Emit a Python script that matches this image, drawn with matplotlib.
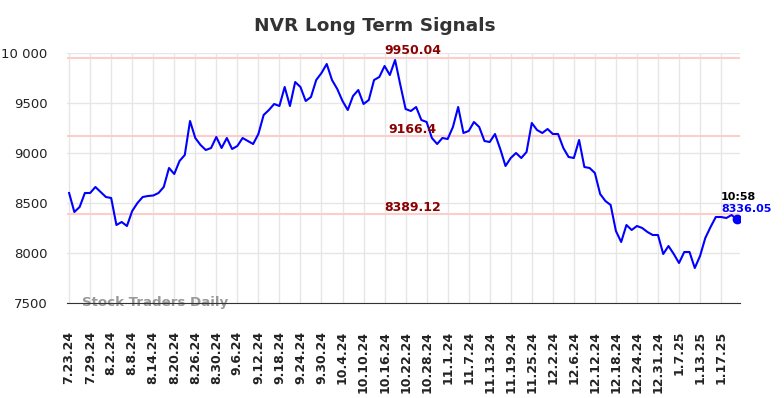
import matplotlib
matplotlib.use("Agg")
import matplotlib.pyplot as plt
from matplotlib.ticker import FuncFormatter

values = [8600, 8410, 8460, 8600, 8600, 8660, 8610, 8560, 8550, 8280,
          8310, 8270, 8420, 8500, 8560, 8570, 8575, 8600, 8660, 8850,
          8790, 8920, 8980, 9320, 9150, 9080, 9030, 9050, 9160, 9050,
          9150, 9040, 9070, 9150, 9120, 9090, 9190, 9380, 9430, 9490,
          9470, 9660, 9470, 9710, 9660, 9520, 9560, 9730, 9800, 9890,
          9730, 9640, 9520, 9430, 9570, 9630, 9490, 9530, 9730, 9760,
          9870, 9780, 9930, 9680, 9440, 9420, 9460, 9330, 9310, 9150,
          9090, 9150, 9140, 9260, 9460, 9200, 9220, 9310, 9260, 9120,
          9110, 9190, 9040, 8870, 8950, 9000, 8950, 9010, 9300, 9230,
          9200, 9240, 9190, 9190, 9050, 8960, 8950, 9130, 8860, 8850,
          8800, 8590, 8520, 8480, 8220, 8110, 8280, 8230, 8270, 8250,
          8210, 8180, 8180, 7990, 8070, 7990, 7900, 8010, 8010, 7850,
          7970, 8150, 8260, 8360, 8360, 8350, 8380, 8336.05]

tick_labels = ["7.23.24", "7.29.24", "8.2.24", "8.8.24", "8.14.24", "8.20.24",
               "8.26.24", "8.30.24", "9.6.24", "9.12.24", "9.18.24", "9.24.24",
               "9.30.24", "10.4.24", "10.10.24", "10.16.24", "10.22.24", "10.28.24",
               "11.1.24", "11.7.24", "11.13.24", "11.19.24", "11.25.24", "12.2.24",
               "12.6.24", "12.12.24", "12.18.24", "12.24.24", "12.31.24", "1.7.25",
               "1.13.25", "1.17.25"]
tick_step = 4

levels = [9950.04, 9166.4, 8389.12]
level_labels = ["9950.04", "9166.4", "8389.12"]
last_time = "10:58"
last_label = "8336.05"
title = "NVR Long Term Signals"
watermark = "Stock Traders Daily"

fig = plt.figure(figsize=(7.84, 3.98), dpi=100)
ax = fig.add_axes([67/784, 1-303/398, (740-67)/784, (303-53)/398])

x = list(range(len(values)))
for lv in levels:
    ax.axhline(lv, color="#ffcccc", lw=1.5, zorder=1)
ax.plot(x, values, color="#0000ff", lw=1.5, zorder=3)
ax.plot(x[-1], values[-1], "o", color="#0000ff", ms=6, zorder=4)

mid = 65.3
for lv, lab in zip(levels, level_labels):
    ax.text(mid, lv + 70, lab, color="#8b0000", fontsize=9, fontweight="bold",
            ha="center", va="center", clip_on=False, zorder=5)

ax.text(x[-1] - 3.0, values[-1] + 225, last_time, color="black", fontsize=8,
        fontweight="bold", ha="left", va="center", clip_on=False)
ax.text(x[-1] - 3.0, values[-1] + 105, last_label, color="#0000ff", fontsize=8,
        fontweight="bold", ha="left", va="center", clip_on=False)

ax.text(2.5, 7505, watermark, color="#999999", fontsize=9.6, fontweight="bold",
        ha="left", va="center", zorder=2)

ax.set_xlim(-0.4, len(values) - 0.4)
ax.set_ylim(7500, 10000)
ax.set_yticks([7500, 8000, 8500, 9000, 9500, 10000])
ax.yaxis.set_major_formatter(FuncFormatter(
    lambda v, p: f"{int(v):,}".replace(",", " ") if v >= 10000 else f"{int(v)}"))
ax.set_xticks(list(range(0, len(tick_labels) * tick_step, tick_step)))
ax.set_xticklabels(tick_labels, rotation=90, fontsize=9, fontweight="bold",
                   color="#222222")
ax.tick_params(axis="y", labelsize=9.5, length=0, pad=14, colors="#222222")
ax.tick_params(axis="x", length=0, pad=20)

ax.grid(True, color="#e6e6e6", lw=1)
ax.set_axisbelow(True)
for s in ["top", "right", "left"]:
    ax.spines[s].set_visible(False)
ax.spines["bottom"].set_color("#333333")

fig.text(375/784, 1-26/398, title, ha="center", va="center", fontsize=13.3,
         fontweight="bold", color="#333333")

fig.savefig("out.png", dpi=100)
